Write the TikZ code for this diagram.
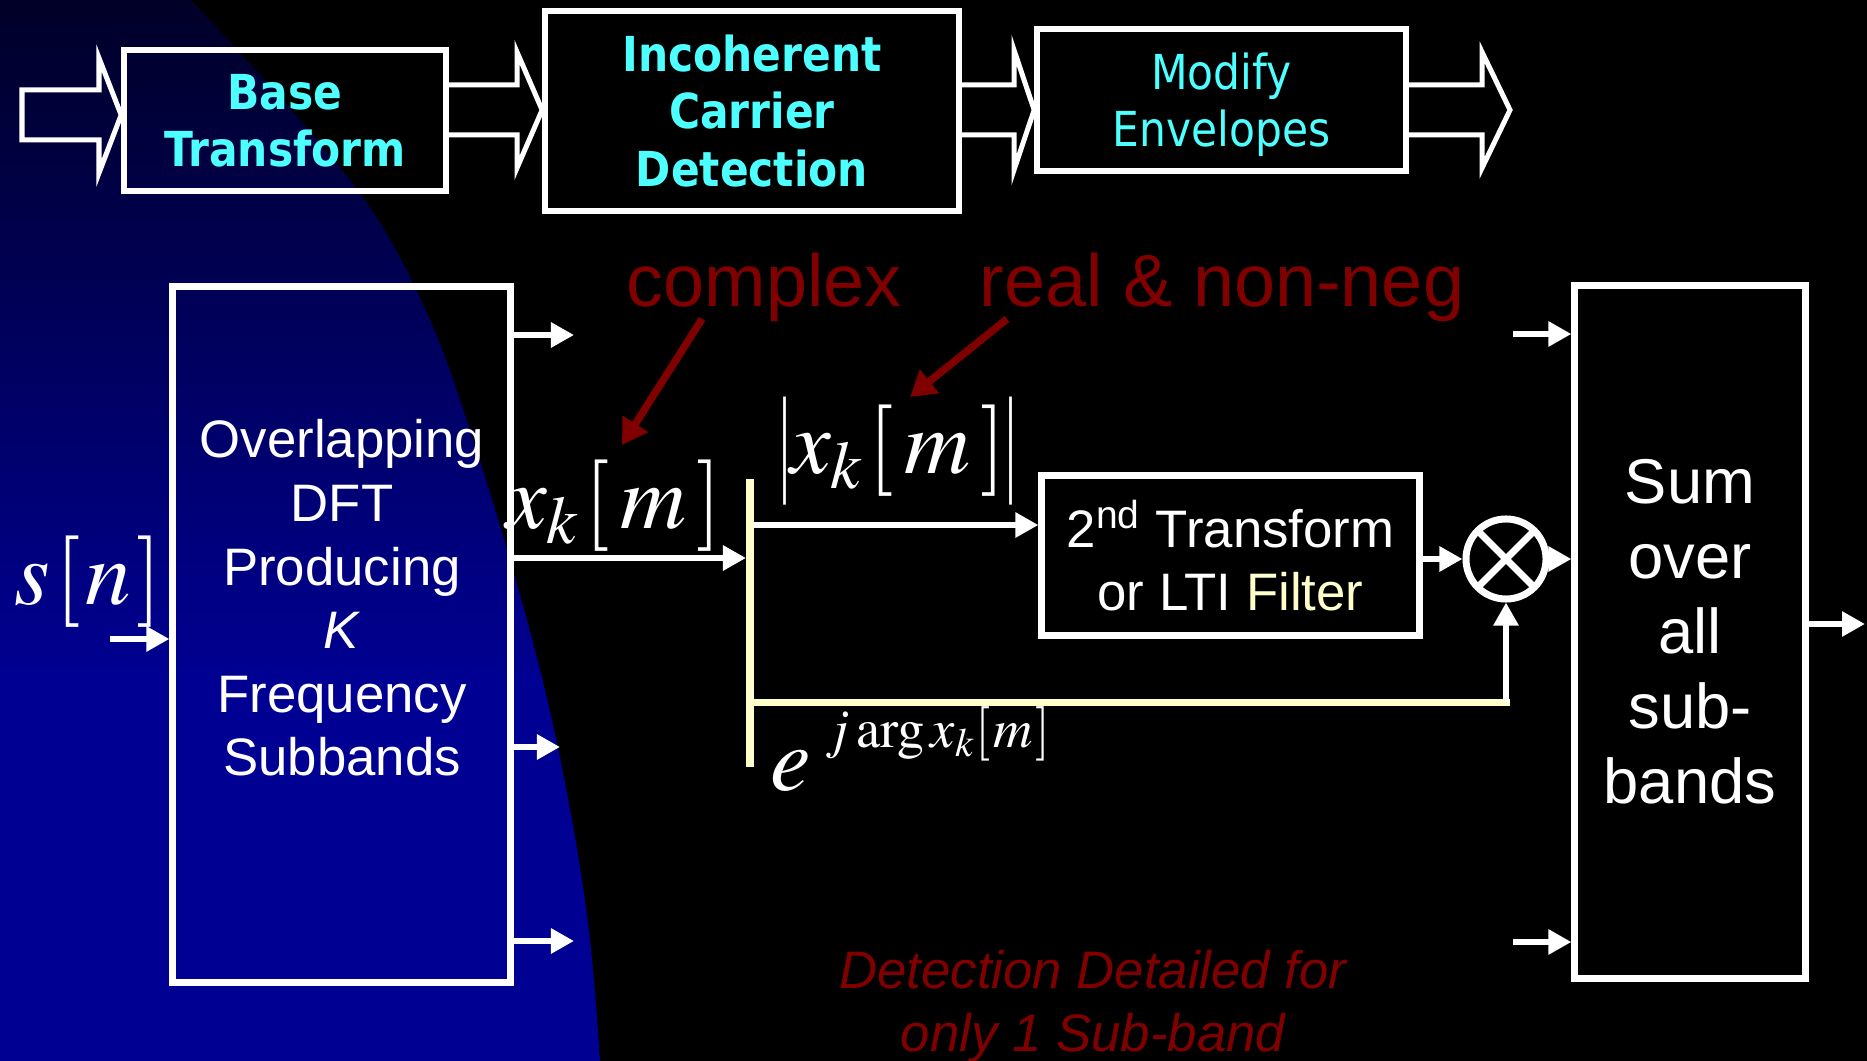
\documentclass[tikz,border=0pt]{standalone}
\usepackage{mathptmx}
\usepackage[no-math]{fontspec}
\setmainfont{Liberation Sans}
\newfontfamily\tahfont[FakeStretch=0.88]{DejaVu Sans}
\newfontfamily\tnrfont{Liberation Serif}
\usetikzlibrary{arrows.meta,calc}
\definecolor{cyanT}{RGB}{77,255,255}
\definecolor{dred}{RGB}{128,0,0}
\definecolor{ltyel}{RGB}{255,255,204}
\definecolor{navytop}{RGB}{0,0,40}
\definecolor{navybot}{RGB}{0,0,146}
\newcommand{\tallbar}{\vcenter{\hbox{\scalebox{0.6}[1.3]{\tnrfont\fontsize{26}{30}\selectfont|}}}}
\begin{document}
\begin{tikzpicture}[x=0.01cm,y=-0.01cm,
  topbox/.style={draw=white, line width=0.055cm, inner sep=0pt, align=center, text=cyanT},
  topfont/.style={font=\tahfont\fontsize{13.7}{16.3}\selectfont},
  topbold/.style={font=\tahfont\bfseries\fontsize{13.7}{16.3}\selectfont},
  hollow/.style={draw=white, line width=0.05cm, line join=miter},
  bigbox/.style={draw=white, line width=0.07cm, inner sep=0pt},
  warrow/.style={draw=white, line width=0.06cm, -{Triangle[length=0.23cm,width=0.24cm]}},
  redarrow/.style={draw=dred, line width=0.075cm, -{Triangle[length=0.25cm,width=0.29cm]}},
  mathlbl/.style={text=white, font=\fontsize{26}{30}\selectfont, inner sep=0pt},
  redlbl/.style={text=dred, font=\fontsize{21}{25}\selectfont, inner sep=0pt},
  yline/.style={draw=ltyel, line width=0.07cm},
]
\useasboundingbox (0,0) rectangle (1867,1061);
\fill[black] (0,0) rectangle (1867,1061);
% blue background region
\begin{scope}
\clip (0,0) -- plot[smooth, tension=0.6] coordinates {(191,0) (296,115) (375,215) (430,320) (470,430) (510,560) (545,690) (572,820) (590,940) (600,1061)} -- (0,1061) -- cycle;
\shade[top color=navytop, bottom color=navybot] (0,0) rectangle (700,680);
\fill[navybot] (0,679) rectangle (700,1061);
\end{scope}

% top row
\node[topbox, topbold, minimum width=3.22cm, minimum height=1.41cm] (base) at (285,120.5) {Base\\Transform};
\node[topbox, topbold, minimum width=4.14cm, minimum height=2.0cm] (incoh) at (752,111) {Incoherent\\Carrier\\Detection};
\node[topbox, topfont, minimum width=3.69cm, minimum height=1.42cm, text depth=0pt] (modify) at (1221.5,100) {Modify\\Envelopes};

\draw[hollow] (22,90) -- (99,90) -- (99,58) -- (base.west |- 0,115) -- (99,173) -- (99,140) -- (22,140) -- cycle;
\draw[hollow] (base.east |- 0,85) -- (517,85) -- (517,52) -- (incoh.west |- 0,110) -- (517,168) -- (517,135) -- (base.east |- 0,135);
\draw[hollow] (incoh.east |- 0,85) -- (1014,85) -- (1014,50) -- (modify.west |- 0,110) -- (1014,170) -- (1014,135) -- (incoh.east |- 0,135);
\draw[hollow] (modify.east |- 0,85) -- (1482,85) -- (1482,52) -- (1510,110) -- (1482,168) -- (1482,135) -- (modify.east |- 0,135);

% bottom blocks
\node[bigbox, minimum width=3.37cm, minimum height=6.95cm] (dft) at (341.5,634.5) {};
\node[text=white, align=center, font=\fontsize{15}{18.1}\selectfont] (dfttext) at (342,598) {Overlapping\\DFT\\Producing\\\textit{K}\\Frequency\\Subbands};
\node[bigbox, minimum width=2.30cm, minimum height=6.93cm, text=white, align=center, font=\fontsize{18}{21.3}\selectfont] (sum) at (1690,632) {Sum\\over\\all\\sub-\\bands};
\node[bigbox, minimum width=3.77cm, minimum height=1.59cm, text=white, align=center, font=\fontsize{15}{18}\selectfont] (tf) at (1230.5,555.5) {2\textsuperscript{nd} Transform\\or LTI \textcolor{ltyel}{Filter}};
\node[circle, draw=white, line width=0.07cm, minimum size=0.8cm, inner sep=0pt] (circ) at (1506,559) {};
\draw[white, line width=0.07cm] ($(circ.center)+(-28,-28)$) -- ($(circ.center)+(28,28)$);
\draw[white, line width=0.07cm] ($(circ.center)+(-28,28)$) -- ($(circ.center)+(28,-28)$);
\node[fill=ltyel, minimum width=0.08cm, minimum height=2.88cm, inner sep=0pt, outer sep=0pt] (bar) at (750,623) {};

% connectors
\coordinate (sin) at (110,639);
\draw[warrow] (sin) -- (sin -| dft.west);
\coordinate (o1) at (574,335);
\coordinate (o3) at (560,747);
\coordinate (o4) at (574,941);
\draw[warrow] (o1 -| dft.east) -- (o1);
\draw[warrow] (o3 -| dft.east) -- (o3);
\draw[warrow] (o4 -| dft.east) -- (o4);
\draw[warrow] (dft.east |- 0,558) -- (bar.west |- 0,558);
\draw[warrow] (bar.east |- 0,525) -- (tf.west |- 0,525);
\draw[warrow] (tf.east |- circ) -- (circ.west);
\draw[warrow] (circ.east) -- (circ.east -| sum.west);
\coordinate (corner) at (circ.south |- 0,702);
\draw[yline] (bar.west |- corner) -- ([xshift=0.035cm]corner);
\draw[warrow] (corner) -- (circ.south);
\coordinate (si1) at (1513,334);
\coordinate (si2) at (1513,942);
\draw[warrow] (si1) -- (si1 -| sum.west);
\draw[warrow] (si2) -- (si2 -| sum.west);
\coordinate (sout) at (1865,624);
\draw[warrow] (sout -| sum.east) -- (sout);

% math labels
\node[mathlbl] (sn) at (88,582) {$s\mkern1mu[\mkern1mu n\mkern1mu]$};
\node[mathlbl] (xk) at (614,506) {$x_k\mkern1mu[\mkern2mu m\mkern2mu]$};
\node[mathlbl] (absxk) at (898,451) {$\tallbar x_k\mkern1mu[\mkern2mu m\mkern2mu]\tallbar$};
\node[mathlbl, anchor=base west] (ephase) at (770,790) {$e$\hspace{4pt}\raisebox{12pt}{\fontsize{15.5}{17}\selectfont$j\arg x_k[\mkern1mu m\mkern1mu]$}};

% red annotations
\node[redlbl, anchor=base] (cplx) at (764,307) {complex};
\node[redlbl, anchor=base] (rnn) at (1222,307) {real \& non-neg};
\coordinate (r1s) at (702,319);
\coordinate (r1e) at (622,445);
\coordinate (r2s) at (1007,319);
\coordinate (r2e) at (910,397);
\draw[redarrow] (r1s) -- (r1e);
\draw[redarrow] (r2s) -- (r2e);
\node[text=dred, align=center, font=\itshape\fontsize{15}{17.9}\selectfont] (note) at (1093,1006) {Detection Detailed for\\only 1 Sub-band};
\end{tikzpicture}
\end{document}
